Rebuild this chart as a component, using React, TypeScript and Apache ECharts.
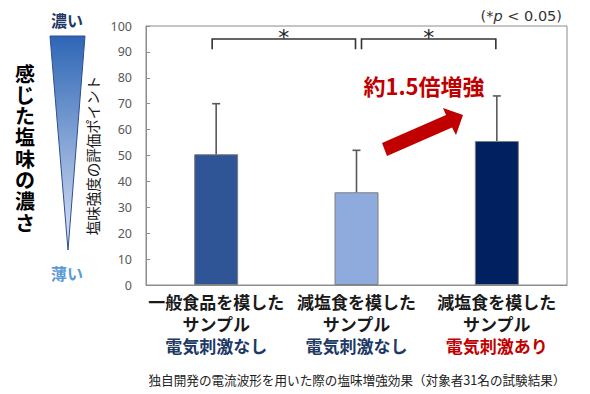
import React, { useEffect, useRef } from "react";
import * as echarts from "echarts";

const labelLine1 = ["一般食品を模した", "減塩食を模した", "減塩食を模した"];
const labelLine2 = ["サンプル", "サンプル", "サンプル"];
const labelLine3 = ["電気刺激なし", "電気刺激なし", "電気刺激あり"];
const stimulated = [false, false, true];
const means = [50.5, 35.8, 55.6];
const upper = [70, 52, 73];
const barColors = ["#2F5597", "#8FAADC", "#002060"];
const brackets = [
  [0, 1],
  [1, 2],
];
const bracketTop = 95;
const bracketLeg = 91;
const yTicks = { min: 0, max: 100, interval: 10 };
const sideTitle = "感じた塩味の濃さ";

const JP = "'Noto Sans CJK JP', 'Noto Sans', sans-serif";

export default function App() {
  const ref = useRef<HTMLDivElement>(null);
  useEffect(() => {
    if (!ref.current) return;
    const chart = echarts.init(ref.current, null, { renderer: "svg" });
    const sideChars = Array.from(sideTitle).map((ch, i) => ({
      type: "text",
      x: 25,
      y: 73 + i * 21.3,
      style: {
        text: ch,
        fontFamily: JP,
        fontSize: 20,
        fontWeight: "bold",
        fill: "#000",
        align: "center",
        verticalAlign: "middle",
      },
    }));
    const option: any = {
      animation: false,
      backgroundColor: "#ffffff",
      grid: {
        left: 146,
        right: 23,
        top: 26,
        bottom: 109,
        show: true,
        borderColor: "#8c8c8c",
        borderWidth: 1,
        backgroundColor: "transparent",
      },
      xAxis: {
        type: "category",
        data: labelLine1.map((_, i) => String(i)),
        axisLine: { show: true, lineStyle: { color: "#8c8c8c" } },
        axisTick: { show: false },
        axisLabel: {
          margin: 5,
          interval: 0,
          formatter: (_v: string, i: number) =>
            `{a|${labelLine1[i]}}\n{a|${labelLine2[i]}}\n{${stimulated[i] ? "r" : "b"}|${labelLine3[i]}}`,
          rich: {
            a: { fontFamily: JP, fontSize: 17, fontWeight: "bold", color: "#1a1a1a", lineHeight: 22 },
            b: { fontFamily: JP, fontSize: 17, fontWeight: "bold", color: "#203864", lineHeight: 22 },
            r: { fontFamily: JP, fontSize: 17, fontWeight: "bold", color: "#C00000", lineHeight: 22 },
          },
        },
      },
      yAxis: {
        type: "value",
        min: yTicks.min,
        max: yTicks.max,
        interval: yTicks.interval,
        name: "塩味強度の評価ポイント",
        nameLocation: "middle",
        nameRotate: 90,
        nameGap: 32,
        nameTextStyle: { fontFamily: JP, fontSize: 14.5, color: "#1a1a1a" },
        axisLine: { show: true, lineStyle: { color: "#8c8c8c" } },
        axisTick: { show: true, inside: true, length: 4, lineStyle: { color: "#8c8c8c" } },
        splitLine: { show: false },
        axisLabel: { color: "#595959", fontSize: 12.5, fontFamily: "'Noto Sans', sans-serif", margin: 14 },
      },
      series: [
        {
          type: "bar",
          barWidth: 44,
          data: means.map((v, i) => ({
            value: v,
            itemStyle: { color: barColors[i], borderColor: "#7f7f7f", borderWidth: 1 },
          })),
          z: 2,
        },
        {
          type: "custom",
          z: 3,
          clip: false,
          data: means.map((m, i) => [i, m, upper[i]]),
          renderItem: (_p: any, api: any) => {
            const x = api.value(0);
            const p0 = api.coord([x, api.value(1)]);
            const p1 = api.coord([x, api.value(2)]);
            const st = { stroke: "#595959", lineWidth: 1.6 };
            return {
              type: "group",
              children: [
                { type: "line", shape: { x1: p0[0], y1: p0[1], x2: p1[0], y2: p1[1] }, style: st },
                { type: "line", shape: { x1: p1[0] - 4, y1: p1[1], x2: p1[0] + 4, y2: p1[1] }, style: st },
              ],
            };
          },
        },
        {
          type: "custom",
          z: 3,
          clip: false,
          data: brackets.map((b) => [b[0], b[1], bracketTop, bracketLeg]),
          encode: { x: 0, y: 2 },
          renderItem: (_p: any, api: any) => {
            const a = api.value(0);
            const b = api.value(1);
            const top = api.value(2);
            const leg = api.value(3);
            const pa = api.coord([a, top]);
            const pb = api.coord([b, top]);
            const pl = api.coord([a, leg]);
            const x1 = pa[0] + (a === 1 ? 5 : -4);
            const x2 = pb[0] - 1;
            const st = { stroke: "#333333", lineWidth: 1.6, fill: "none" };
            return {
              type: "group",
              children: [
                {
                  type: "polyline",
                  shape: { points: [[x1, pl[1]], [x1, pa[1]], [x2, pa[1]], [x2, pl[1]]] },
                  style: st,
                },
                {
                  type: "text",
                  x: (x1 + x2) / 2,
                  y: pa[1] - 1,
                  style: {
                    text: "*",
                    fontSize: 22,
                    fontFamily: "'DejaVu Sans', sans-serif",
                    fill: "#222",
                    align: "center",
                    verticalAlign: "middle",
                  },
                },
              ],
            };
          },
        },
      ],
      graphic: [
        {
          type: "text",
          x: 562,
          y: 16,
          style: {
            text: "(*{i|p} < 0.05)",
            rich: { i: { fontStyle: "italic", fontSize: 14.5, fontFamily: "'DejaVu Sans', sans-serif", fill: "#333" } },
            fontSize: 14.5,
            fontFamily: "'DejaVu Sans', sans-serif",
            fill: "#333",
            align: "right",
            verticalAlign: "middle",
          },
        },
        {
          type: "polygon",
          shape: { points: [[50, 36], [85, 36], [68, 250]] },
          style: {
            fill: new echarts.graphic.LinearGradient(0, 0, 0, 1, [
              { offset: 0, color: "#2E66B5" },
              { offset: 1, color: "#DDE4F7" },
            ]),
            stroke: "#2F4F8F",
            lineWidth: 1,
          },
        },
        {
          type: "text",
          x: 67,
          y: 20,
          style: { text: "濃い", fontFamily: JP, fontSize: 16, fontWeight: "bold", fill: "#203864", align: "center", verticalAlign: "middle" },
        },
        {
          type: "text",
          x: 67,
          y: 273,
          style: { text: "薄い", fontFamily: JP, fontSize: 16, fontWeight: "bold", fill: "#5B9BD5", align: "center", verticalAlign: "middle" },
        },
        ...sideChars,
        {
          type: "polygon",
          shape: { points: [[382, 143], [446, 115], [443, 108], [463, 115], [456, 135], [452, 127.5], [387, 156]] },
          style: { fill: "#C00000" },
        },
        {
          type: "text",
          x: 424,
          y: 85,
          style: { text: "約1.5倍増強", fontFamily: JP, fontSize: 22, fontWeight: "bold", fill: "#C00000", align: "center", verticalAlign: "middle" },
        },
        {
          type: "text",
          x: 357,
          y: 379,
          style: {
            text: "独自開発の電流波形を用いた際の塩味増強効果（対象者31名の試験結果）",
            fontFamily: JP,
            fontSize: 12.6,
            fill: "#222",
            align: "center",
            verticalAlign: "middle",
          },
        },
      ],
    };
    chart.setOption(option);
    return () => chart.dispose();
  }, []);
  return <div ref={ref} style={{ width: 590, height: 394, position: "absolute", left: 0, top: 0 }} />;
}
